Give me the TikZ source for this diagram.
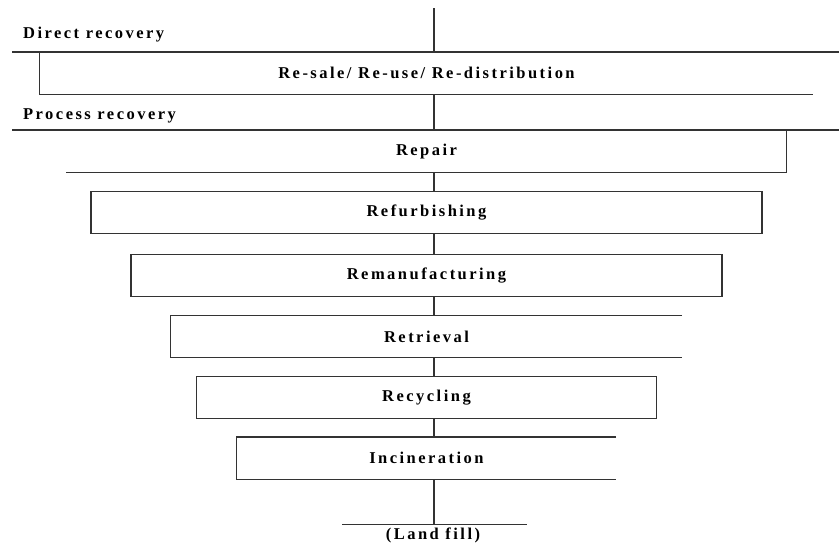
\documentclass[tikz,border=0pt]{standalone}
\usepackage{fontspec}
\setmainfont{Liberation Serif}[LetterSpace=15]
\usepackage{tikz}
\usetikzlibrary{positioning}
\tikzset{
  stage/.style={minimum height=42pt, inner sep=0pt, font=\fontsize{16.5}{19}\selectfont\bfseries},
  shutstage/.style={stage, draw=black!80, line width=1.3pt},
  heading/.style={anchor=west, inner sep=0pt, font=\fontsize{16.5}{19}\selectfont\bfseries},
  link/.style={draw=black!80, line width=1.3pt}
}

\begin{document}
\begin{tikzpicture}[x=1pt, y=-1pt]
    \useasboundingbox (0,0) rectangle (839,544);
    \coordinate (axis) at (434,8);
    \node[heading] (direct) at (23,35) {Direct recovery};
    \node[heading] (process) at (23,116) {Process recovery};
    % recovery stages
    \node[stage, minimum width=773pt] (resale) at (426.5,73) {Re-sale/ Re-use/ Re-distribution};
    \node[stage, minimum width=720pt, below=36pt of resale] (repair) {Repair};
    \node[shutstage, minimum width=671pt, below=18pt of repair] (refurb) {Refurbishing};
    \node[shutstage, minimum width=591pt, below=20pt of refurb] (reman) {Remanufacturing};
    \node[stage, minimum width=511pt, below=18pt of reman] (retrieval) {Retrieval};
    \node[shutstage, minimum width=460pt, below=18pt of retrieval] (recycling) {Recycling};
    \node[stage, minimum width=379pt, below=18pt of recycling] (incineration) {Incineration};
    \coordinate (ground) at ([yshift=-45pt]incineration.south -| axis);
    \node[stage, minimum height=0pt] (landfill) at (433,535) {(Land fill)};
    % open sided boxes
    \draw[link] (12,52) -- (839,52);
    \draw[link] (resale.north west) -- (resale.south west) -- (resale.south east);
    \draw[link] (12,130) -- (839,130);
    \draw[link] (repair.north east) -- (repair.south east) -- (repair.south west);
    \draw[link] (retrieval.north east) -- (retrieval.north west) -- (retrieval.south west) -- (retrieval.south east);
    \draw[link] (incineration.north east) -- (incineration.north west) -- (incineration.south west) -- (incineration.south east);
    \draw[link] ([xshift=-92pt]ground) -- ([xshift=93pt]ground);
    % main line
    \draw[link] (axis) -- (resale.north -| axis);
    \foreach \a/\b in {resale/repair, repair/refurb, refurb/reman, reman/retrieval, retrieval/recycling, recycling/incineration}
      \draw[link] (\a.south -| axis) -- (\b.north -| axis);
    \draw[link] (incineration.south -| axis) -- (ground);
\end{tikzpicture}
\end{document}
